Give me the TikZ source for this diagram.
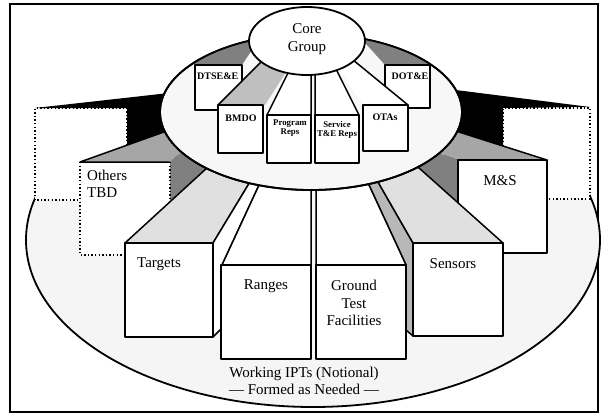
\documentclass[tikz,border=0pt]{standalone}
\usepackage{fontspec}
\setmainfont{Liberation Serif}

\begin{document}
\begin{tikzpicture}[x=1pt,y=-1pt,
  every node/.style={inner sep=0pt,align=center,font=\fontsize{15}{17.5}\selectfont},
  edge/.style={line width=1.5pt,line join=round},
  rim/.style={line width=1.8pt},
  dots/.style={line width=1.4pt,dash pattern=on 1.4pt off 2.2pt},
  tag/.style={font=\bfseries\fontsize{10}{11}\selectfont},
  reps/.style={font=\bfseries\fontsize{8.8}{8.8}\selectfont}]
\useasboundingbox (0,0) rectangle (606,415);
\draw[line width=1.4pt] (10,4) rectangle (598,412);
% base of the working IPTs
\draw[rim,fill=black!4] (313,240) ellipse [x radius=287pt,y radius=167pt];
% back boxes and their black tops
\fill[white] (35,108) rectangle (127,200);
\fill[white] (503,108) rectangle (590,199);
\fill (35,108) -- (178,92) -- (178,160) -- (127,160) -- (127,108) -- cycle;
\fill (440,88) -- (590,107) -- (503,108) -- (503,165) -- (445,165) -- cycle;
\draw[dots] (127,145) -- (127,108) -- (35,108) -- (35,200) -- (80,200);
\draw[dots] (503,146) -- (503,108) -- (590,108) -- (590,199) -- (547,199);
% others tbd
\fill[white] (80,162) rectangle (170,255);
\fill[black!35] (80,162) -- (175,128) -- (190,145) -- (170,162) -- cycle;
\fill[black!50] (170,162) -- (190,145) -- (215,165) -- (170,210) -- cycle;
\draw[edge] (170,162) -- (80,162) -- (175,128);
\draw[dots] (80,162) -- (80,255) -- (125,255);
\draw[dots] (170,162) -- (170,205);
\node[anchor=west,align=left] (others) at (87,184) {Others\\TBD};
% m&s
\fill[black!35] (458,160) -- (547,160) -- (440,126) -- (430,150) -- cycle;
\fill[black!50] (430,150) -- (458,160) -- (458,215) -- (410,172) -- cycle;
\draw[edge] (547,160) -- (440,126);
\draw[edge,fill=white] (458,160) rectangle (547,253);
\node (ms) at (500,181) {M\&S};
% targets
\filldraw[edge,fill=black!12] (125,243) -- (213,243) -- (256,172) -- (220,156) -- cycle;
\filldraw[edge,fill=white] (213,243) -- (256,172) -- (266,170) -- (222,265) -- (222,328) -- (213,337) -- cycle;
\draw[edge,fill=white] (125,243) rectangle (213,337);
\node (targets) at (159,264) {Targets};
% sensors
\filldraw[edge,fill=black!28] (362,170) -- (370,168) -- (413,243) -- (413,336) -- (406,330) -- (406,265) -- cycle;
\filldraw[edge,fill=black!12] (413,243) -- (503,243) -- (400,151) -- (370,168) -- cycle;
\draw[edge,fill=white] (413,243) rectangle (503,336);
\node (sensors) at (453,264) {Sensors};
% ranges
\filldraw[edge,fill=white] (222,265) -- (311,265) -- (311,175) -- (266,170) -- cycle;
\draw[edge,fill=white] (221,265) rectangle (311,359);
\node (ranges) at (266,286) {Ranges};
% ground test facilities
\filldraw[edge,fill=white] (316,265) -- (406,265) -- (362,170) -- (316,175) -- cycle;
\draw[edge,fill=white] (316,265) rectangle (406,359);
\node (ground) at (354,303) {Ground\\Test\\Facilities};
% core group ring
\draw[rim,fill=black!3] (311,112) ellipse [x radius=151pt,y radius=78pt];
\begin{scope}
\clip (311,112) ellipse [x radius=151pt,y radius=78pt];
\fill[black!50] (195,65) -- (242,65) -- (275,15) -- (200,15) -- cycle;
\fill[black!50] (385,65) -- (430,65) -- (420,15) -- (340,15) -- cycle;
\end{scope}
\draw[rim] (311,112) ellipse [x radius=151pt,y radius=78pt];
\draw[edge,fill=white] (195,65) rectangle (242,110);
\node[tag,anchor=west] (dtsee) at (197,76) {DTSE\&E};
\draw[edge,fill=white] (385,65) rectangle (430,108);
\node[tag] (dote) at (410,76) {DOT\&E};
\fill[black!25] (218,105) -- (268,55) -- (297,55) -- (265,105) -- cycle;
\draw[edge] (218,105) -- (268,55);
\draw[edge,fill=white] (218,105) rectangle (263,153);
\node[tag] (bmdo) at (241,118) {BMDO};
\fill[white] (363,105) -- (408,105) -- (347,55) -- (330,55) -- cycle;
\draw[edge] (408,105) -- (347,55);
\draw[edge,fill=white] (363,105) rectangle (408,151);
\node[tag] (otas) at (385,117) {OTAs};
\filldraw[edge,fill=white] (267,115) -- (311,115) -- (311,55) -- (297,55) -- cycle;
\filldraw[edge,fill=white] (315,115) -- (359,115) -- (329,55) -- (315,55) -- cycle;
\draw[edge,fill=white] (267,115) rectangle (311,163);
\draw[edge,fill=white] (315,115) rectangle (359,163);
\node[reps] (program) at (290,128) {Program\\Reps};
\node[reps] (service) at (337,130) {Service\\T\&E Reps};
% core group
\draw[rim,fill=white] (307,41) ellipse [x radius=58pt,y radius=34pt];
\node (core) at (307,39) {Core\\Group};
\node (ipts) at (304,381) {Working IPTs (Notional)\\— Formed as Needed —};
\end{tikzpicture}
\end{document}
